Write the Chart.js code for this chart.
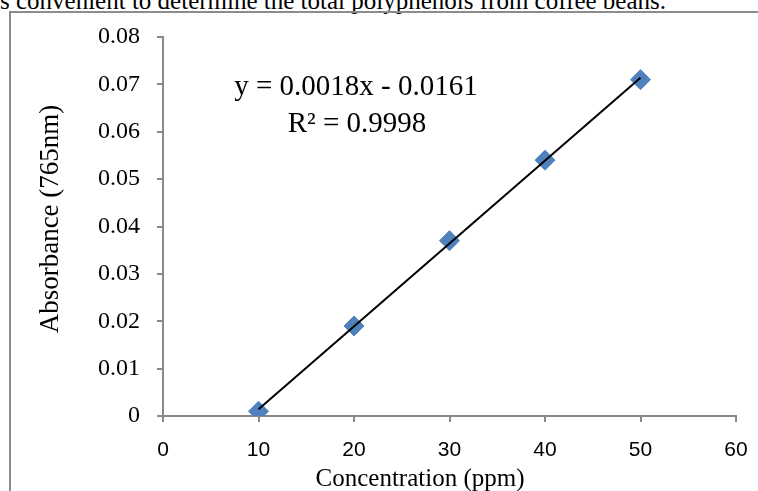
<!DOCTYPE html>
<html>
<head>
<meta charset="utf-8">
<script src="https://cdn.jsdelivr.net/npm/chart.js@4.4.1/dist/chart.umd.min.js"></script>
<style>
    html, body { margin: 0; padding: 0; background: #fff; }
    #wrap { position: relative; width: 758px; height: 491px; overflow: hidden; }
    #caption {
        position: absolute; left: 0; top: -12px; white-space: nowrap;
        font: 25px/25px "Liberation Serif", "Times New Roman", serif; color: #000;
    }
    #frame {
        position: absolute; left: 9px; top: 11px; right: -4px; bottom: -4px;
        border-left: 2px solid #8c8c8c; border-top: 2px solid #8c8c8c;
    }
    #chart { position: absolute; left: 0; top: 0; }
</style>
</head>
<body>
<div id="wrap">
    <div id="caption">s convenient to determine the total polyphenols from coffee beans.</div>
    <div id="frame"></div>
    <canvas id="chart" width="758" height="491"></canvas>
</div>
<script>
// Standard curve data
const concentrations = [10, 20, 30, 40, 50];          // ppm
const absorbances = [0.001, 0.019, 0.037, 0.054, 0.071]; // at 765nm
const equationLines = ['y = 0.0018x - 0.0161', 'R\u00b2 = 0.9998'];
const xAxisTitle = 'Concentration (ppm)';
const yAxisTitle = 'Absorbance (765nm)';

const axisGrey = '#898989';
const serif = '"Liberation Serif", "Times New Roman", serif';

// Least squares fit, drawn between the first and last x like Excel does
function linearFit(xs, ys) {
    const n = xs.length;
    const mx = xs.reduce((a, b) => a + b, 0) / n;
    const my = ys.reduce((a, b) => a + b, 0) / n;
    let sxy = 0, sxx = 0;
    xs.forEach((x, i) => {
        sxy += (x - mx) * (ys[i] - my);
        sxx += (x - mx) * (x - mx);
    });
    const slope = sxy / sxx;
    return { slope, intercept: my - slope * mx };
}

const fit = linearFit(concentrations, absorbances);
const xMin = Math.min(...concentrations);
const xMax = Math.max(...concentrations);
const trendPoints = [xMin, xMax].map(x => ({ x: x, y: fit.slope * x + fit.intercept }));

// Extra text: trendline equation and the axis titles
const chartTextPlugin = {
    id: 'chartText',
    afterDraw: (chart) => {
        const ctx = chart.ctx;
        const area = chart.chartArea;
        ctx.save();
        ctx.fillStyle = '#000';
        ctx.textAlign = 'center';
        ctx.textBaseline = 'middle';

        ctx.font = '29px ' + serif;
        ctx.fillText(equationLines[0], area.left + 193, area.top + 50);
        ctx.fillText(equationLines[1], area.left + 194, area.top + 87);

        ctx.font = '25px ' + serif;
        ctx.fillText(xAxisTitle, area.left + 257, area.bottom + 63);

        ctx.translate(51, area.top + 182);
        ctx.rotate(-Math.PI / 2);
        ctx.font = '27px ' + serif;
        ctx.fillText(yAxisTitle, 0, 0);
        ctx.restore();
    }
};

const ctx = document.getElementById('chart').getContext('2d');
new Chart(ctx, {
    type: 'scatter',
    data: {
        datasets: [
            {
                type: 'line',
                label: 'Linear fit',
                data: trendPoints,
                borderColor: '#000',
                borderWidth: 2,
                pointRadius: 0,
                fill: false,
                order: 0
            },
            {
                label: 'Absorbance',
                data: concentrations.map((c, i) => ({ x: c, y: absorbances[i] })),
                pointStyle: 'rectRot',
                pointRadius: 10,
                pointHoverRadius: 10,
                backgroundColor: '#4f81bd',
                borderColor: '#4f81bd',
                borderWidth: 1,
                order: 1
            }
        ]
    },
    options: {
        responsive: false,
        animation: false,
        layout: { autoPadding: false, padding: { left: 0, top: 37, right: 22, bottom: 0 } },
        plugins: {
            legend: { display: false },
            tooltip: { enabled: false }
        },
        scales: {
            x: {
                type: 'linear',
                min: 0,
                max: 60,
                ticks: {
                    stepSize: 10,
                    color: '#000',
                    padding: 16,
                    font: { family: '"Liberation Sans", Arial, sans-serif', size: 21 }
                },
                grid: { drawOnChartArea: false, drawTicks: true, tickLength: 6, color: axisGrey, lineWidth: 2 },
                border: { display: true, color: axisGrey, width: 2 },
                afterFit: (scale) => {
                    scale.height = 75;
                    scale.paddingLeft = 0;
                    scale.paddingRight = 0;
                }
            },
            y: {
                min: 0,
                max: 0.08,
                ticks: {
                    stepSize: 0.01,
                    color: '#000',
                    padding: 17,
                    font: { family: serif, size: 24 },
                    callback: (v) => v === 0 ? '0' : v.toFixed(2)
                },
                grid: { drawOnChartArea: false, drawTicks: true, tickLength: 6, color: axisGrey, lineWidth: 2 },
                border: { display: true, color: axisGrey, width: 2 },
                afterFit: (scale) => {
                    scale.width = 163;
                    scale.paddingTop = 0;
                    scale.paddingBottom = 0;
                }
            }
        }
    },
    plugins: [chartTextPlugin]
});
</script>
</body>
</html>
